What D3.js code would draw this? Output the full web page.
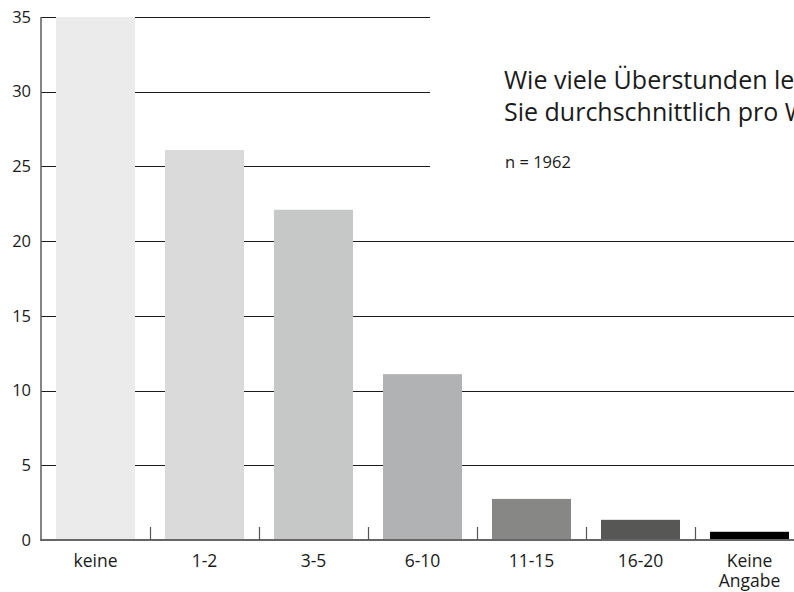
<!DOCTYPE html>
<html>
<head>
<meta charset="utf-8">
<script src="https://cdn.jsdelivr.net/npm/d3@7"></script>
<style>
  body { margin: 0; background: #fff; }
  svg { display: block; font-family: 'Open Sans', sans-serif; }
</style>
</head>
<body>
<svg width="794" height="592"></svg>
<script>
// data
var categories = ['keine', '1-2', '3-5', '6-10', '11-15', '16-20', 'Keine Angabe'];
var values = [35, 26.1, 22.1, 11.1, 2.75, 1.35, 0.55];
var barColors = ['#ebebeb', '#dadada', '#c6c7c7', '#b1b2b3', '#878786', '#575756', '#000000'];
var yTicks = [0, 5, 10, 15, 20, 25, 30, 35];
var titleLines = ['Wie viele Überstunden leisten', 'Sie durchschnittlich pro Woche?'];
var note = 'n = 1962';

var svg = d3.select('svg');

var x = d3.scaleBand()
  .domain(categories)
  .range([41, 41 + 109 * 7])
  .paddingInner(0.275)
  .paddingOuter(0.1375);

var y = d3.scaleLinear().domain([0, 35]).range([540, 17]);

// gridlines (the upper ones stop before the title)
svg.append('g')
  .selectAll('line')
  .data(yTicks.filter(function (d) { return d > 0; }))
  .enter()
  .append('line')
  .attr('x1', 41)
  .attr('x2', function (d) { return d >= 25 ? 430 : 794; })
  .attr('y1', function (d) { return Math.round(y(d)) + 0.5; })
  .attr('y2', function (d) { return Math.round(y(d)) + 0.5; })
  .attr('stroke', '#1a1a1a')
  .attr('stroke-width', 1);

// bars
svg.append('g')
  .selectAll('rect')
  .data(values)
  .enter()
  .append('rect')
  .attr('x', function (d, i) { return x(categories[i]); })
  .attr('width', x.bandwidth())
  .attr('y', function (d) { return y(d); })
  .attr('height', function (d) { return y(0) - y(d); })
  .attr('fill', function (d, i) { return barColors[i]; });

// y axis
var yAxis = svg.append('g')
  .attr('transform', 'translate(41,0)')
  .call(d3.axisLeft(y).tickValues(yTicks).tickSize(0).tickPadding(10));
yAxis.select('.domain').remove();
yAxis.selectAll('text')
  .attr('font-family', 'Open Sans, sans-serif')
  .attr('font-size', 16.5)
  .attr('fill', '#1a1a1a');

svg.append('line')
  .attr('x1', 41).attr('x2', 41)
  .attr('y1', y(35)).attr('y2', y(0))
  .attr('stroke', '#666').attr('stroke-width', 1.6);

// x axis baseline and separators
svg.append('line')
  .attr('x1', 40).attr('x2', 794)
  .attr('y1', y(0)).attr('y2', y(0))
  .attr('stroke', '#666').attr('stroke-width', 2);

var step = x.step();
svg.append('g')
  .selectAll('line')
  .data(categories.slice(1))
  .enter()
  .append('line')
  .attr('x1', function (d) { return Math.round(x(d) - step * 0.1375) + 0.5; })
  .attr('x2', function (d) { return Math.round(x(d) - step * 0.1375) + 0.5; })
  .attr('y1', y(0) - 13)
  .attr('y2', y(0))
  .attr('stroke', '#555')
  .attr('stroke-width', 1.2);

// category labels
var labels = svg.append('g')
  .selectAll('text')
  .data(categories)
  .enter()
  .append('text')
  .attr('x', function (d) { return x(d) + x.bandwidth() / 2; })
  .attr('y', 567)
  .attr('text-anchor', 'middle')
  .attr('font-size', 17.5)
  .attr('fill', '#1a1a1a');

labels.each(function (d) {
  var words = d.split(' ');
  var t = d3.select(this);
  words.forEach(function (w, i) {
    t.append('tspan')
      .attr('x', t.attr('x'))
      .attr('dy', i === 0 ? 0 : 20)
      .text(w);
  });
});

// title, runs off the right edge like the original
svg.append('g')
  .selectAll('text')
  .data(titleLines)
  .enter()
  .append('text')
  .attr('x', 504)
  .attr('y', function (d, i) { return 89 + i * 32; })
  .attr('font-size', 25)
  .attr('fill', '#1a1a1a')
  .text(function (d) { return d; });

svg.append('text')
  .attr('x', 505)
  .attr('y', 168)
  .attr('font-size', 16.5)
  .attr('fill', '#1a1a1a')
  .text(note);
</script>
</body>
</html>
